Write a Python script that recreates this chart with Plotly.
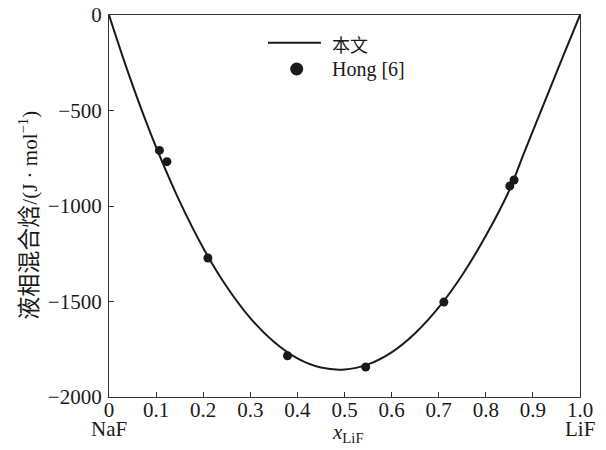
import plotly.graph_objects as go

# 本文 (model curve)
curve_x = [0, 0.035, 0.069, 0.107, 0.150, 0.200, 0.250, 0.300, 0.350, 0.400, 0.450,
           0.500, 0.550, 0.600, 0.650, 0.700, 0.750, 0.800, 0.850, 0.880, 0.929, 0.965, 1.0]
curve_y = [0, -261, -495, -734, -976, -1220, -1423, -1587, -1711, -1798, -1846,
           -1856, -1829, -1766, -1666, -1531, -1361, -1156, -917, -730, -430, -210, 0]

# Hong [6] experimental points
hong_x = [0.107, 0.123, 0.210, 0.379, 0.545, 0.711, 0.851, 0.860]
hong_y = [-709, -768, -1272, -1784, -1843, -1503, -895, -864]

x_ticks = [0, 0.1, 0.2, 0.3, 0.4, 0.5, 0.6, 0.7, 0.8, 0.9, 1.0]
x_tick_labels = ["0", "0.1", "0.2", "0.3", "0.4", "0.5", "0.6", "0.7", "0.8", "0.9", "1.0"]
y_ticks = [0, -500, -1000, -1500, -2000]
y_tick_labels = ["0", "\u2212500", "\u22121000", "\u22121500", "\u22122000"]

SERIF = "Liberation Serif, Times New Roman, Noto Sans CJK SC, serif"
INK = "#1a1a1a"

fig = go.Figure()
fig.add_trace(go.Scatter(x=curve_x, y=curve_y, mode="lines", name="本文",
                         line=dict(color=INK, width=2, shape="spline", smoothing=1.0),
                         showlegend=False))
fig.add_trace(go.Scatter(x=hong_x, y=hong_y, mode="markers", name="Hong [6]",
                         marker=dict(color=INK, size=9), showlegend=False))

axis_common = dict(showgrid=False, zeroline=False, showline=True, linecolor="#333",
                   linewidth=1.3, mirror=True, ticks="inside", ticklen=5,
                   tickcolor="#333", tickwidth=1.2, automargin=False,
                   tickfont=dict(family=SERIF, size=21, color=INK))

fig.update_xaxes(range=[0, 1], tickvals=x_ticks, ticktext=x_tick_labels,
                 ticklabelstandoff=-6, **axis_common)
fig.update_yaxes(range=[-2000, 0], tickvals=y_ticks, ticktext=y_tick_labels,
                 ticklabelstandoff=2, **axis_common)

ann = []
ann.append(dict(text="NaF", x=0, y=-0.084, xref="paper", yref="paper",
                showarrow=False, xanchor="center", yanchor="middle",
                font=dict(family=SERIF, size=21, color=INK)))
ann.append(dict(text="LiF", x=1.0, y=-0.084, xref="paper", yref="paper",
                showarrow=False, xanchor="center", yanchor="middle",
                font=dict(family=SERIF, size=21, color=INK)))
ann.append(dict(text="<i>x</i><sub>LiF</sub>", x=0.507, y=-0.093, xref="paper", yref="paper",
                showarrow=False, xanchor="center", yanchor="middle",
                font=dict(family=SERIF, size=21, color=INK)))
ann.append(dict(text="<span style='font-family:Noto Sans CJK SC;font-size:23px'>液相混合焓</span>/(J · mol<sup>−1</sup>)",
                x=-0.176, y=0.475, xref="paper", yref="paper", textangle=-90,
                showarrow=False, xanchor="center", yanchor="middle",
                font=dict(family=SERIF, size=21, color=INK)))
# legend
ann.append(dict(text="本文", x=0.469, y=0.925, xref="paper", yref="paper",
                showarrow=False, xanchor="left", yanchor="middle",
                font=dict(family="Noto Sans CJK SC", size=18, color=INK)))
ann.append(dict(text="Hong [6]", x=0.469, y=0.857, xref="paper", yref="paper",
                showarrow=False, xanchor="left", yanchor="middle",
                font=dict(family=SERIF, size=20, color=INK)))

shapes = [
    dict(type="line", xref="paper", yref="paper", x0=0.3376, x1=0.450, y0=0.9275, y1=0.9275,
         line=dict(color=INK, width=2)),
    dict(type="circle", xref="paper", yref="paper",
         x0=0.3985 - 0.0138, x1=0.3985 + 0.0138, y0=0.8586 - 0.017, y1=0.8586 + 0.017,
         fillcolor=INK, line=dict(color=INK, width=0)),
]

fig.update_layout(width=606, height=450, margin=dict(l=109, r=26, t=15, b=53),
                  paper_bgcolor="white", plot_bgcolor="white",
                  annotations=ann, shapes=shapes, showlegend=False)

fig.write_html("out.html")
